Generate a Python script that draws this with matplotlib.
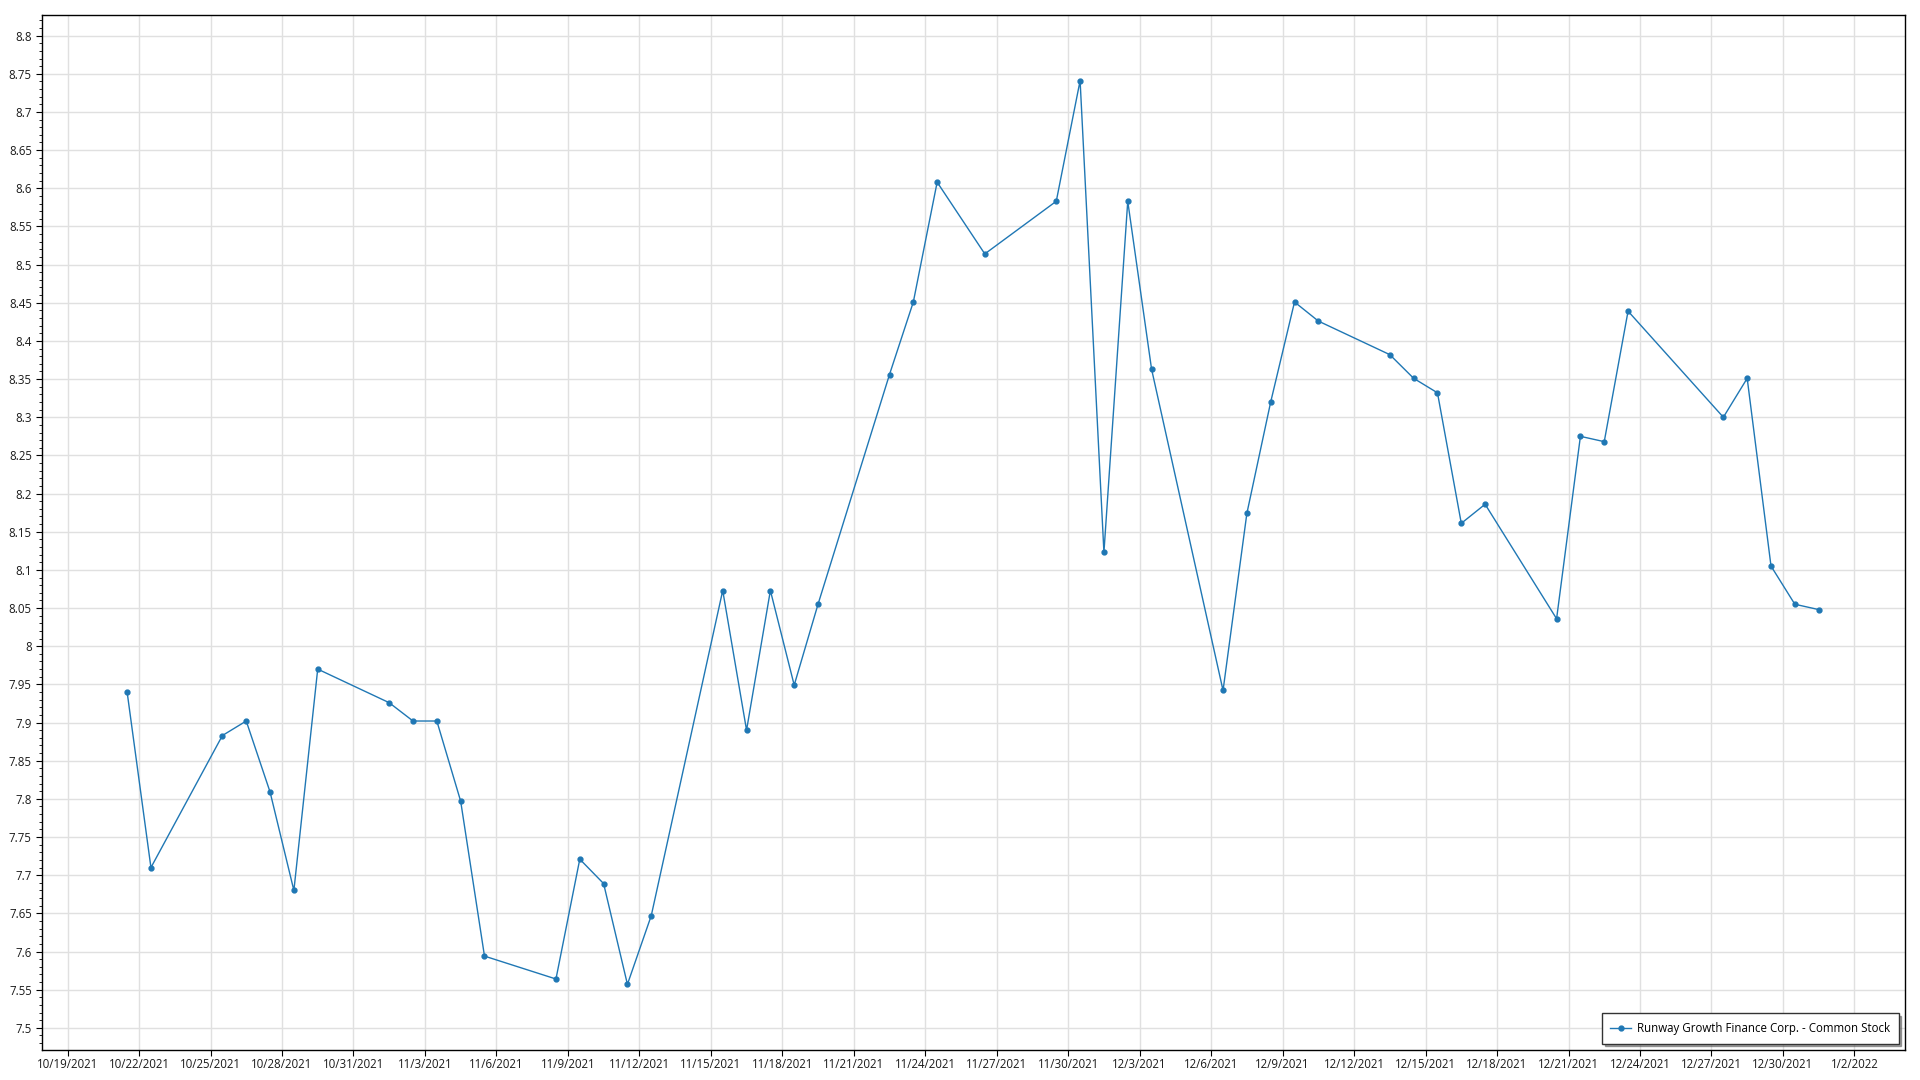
import numpy as np
import pandas as pd
import matplotlib
matplotlib.use("Agg")
import matplotlib.pyplot as plt
import matplotlib.dates as mdates
from matplotlib.ticker import MultipleLocator, FuncFormatter

plt.rcParams['font.family'] = ['Open Sans', 'DejaVu Sans']

# trading days (closing prices, plotted at midday)
dates = [
    '2021-10-21', '2021-10-22', '2021-10-25', '2021-10-26', '2021-10-27',
    '2021-10-28', '2021-10-29', '2021-11-01', '2021-11-02', '2021-11-03',
    '2021-11-04', '2021-11-05', '2021-11-08', '2021-11-09', '2021-11-10',
    '2021-11-11', '2021-11-12', '2021-11-15', '2021-11-16', '2021-11-17',
    '2021-11-18', '2021-11-19', '2021-11-22', '2021-11-23', '2021-11-24',
    '2021-11-26', '2021-11-29', '2021-11-30', '2021-12-01', '2021-12-02',
    '2021-12-03', '2021-12-06', '2021-12-07', '2021-12-08', '2021-12-09',
    '2021-12-10', '2021-12-13', '2021-12-14', '2021-12-15', '2021-12-16',
    '2021-12-17', '2021-12-20', '2021-12-21', '2021-12-22', '2021-12-23',
    '2021-12-27', '2021-12-28', '2021-12-29', '2021-12-30', '2021-12-31',
]
prices = [
    7.940, 7.710, 7.883, 7.902, 7.809, 7.680, 7.970, 7.926, 7.902, 7.902,
    7.797, 7.594, 7.564, 7.721, 7.689, 7.557, 7.647, 8.073, 7.890, 8.073,
    7.949, 8.055, 8.356, 8.451, 8.608, 8.514, 8.583, 8.741, 8.123, 8.583,
    8.363, 7.942, 8.174, 8.320, 8.451, 8.426, 8.382, 8.351, 8.332, 8.161,
    8.186, 8.036, 8.275, 8.268, 8.439, 8.300, 8.351, 8.105, 8.055, 8.048,
]
series_name = 'Runway Growth Finance Corp. - Common Stock'

x = pd.to_datetime(dates) + pd.Timedelta(hours=12)

fig = plt.figure(figsize=(19.2, 10.8), dpi=100)
ax = fig.add_axes([0.0220, 0.0278, 0.9702, 0.9583])

ax.plot(x, prices, color='#1f77b4', linewidth=1.0, marker='o', markersize=3.5,
        label=series_name, zorder=3)

ax.set_xlim(pd.Timestamp('2021-10-17 22:30'), pd.Timestamp('2022-01-04 03:00'))
ax.set_ylim(7.471, 8.827)

xticks = pd.date_range('2021-10-19', '2022-01-02', freq='3D')
ax.set_xticks(xticks)
ax.xaxis.set_major_formatter(FuncFormatter(
    lambda v, p: (lambda d: f"{d.month}/{d.day}/{d.year}")(mdates.num2date(v))))

ax.yaxis.set_major_locator(MultipleLocator(0.05))
ax.yaxis.set_minor_locator(MultipleLocator(0.01))
ax.yaxis.set_major_formatter(FuncFormatter(lambda v, p: f"{round(v, 2):g}"))

ax.grid(True, which='major', color='#e0e0e0', linewidth=1.0, zorder=0)
ax.tick_params(axis='both', which='major', labelsize=8.3, length=4, color='black',
               labelcolor='#1a1a1a')
ax.tick_params(axis='x', which='major', pad=2)
ax.tick_params(axis='y', which='minor', length=2, color='black')
for s in ax.spines.values():
    s.set_color('black')
    s.set_linewidth(1.0)

leg = ax.legend(loc='lower right', fontsize=8.3, fancybox=False, shadow=True,
                framealpha=1, edgecolor='#333333', borderpad=0.75,
                handlelength=1.8, handletextpad=0.5, borderaxespad=0.55)
leg.get_frame().set_linewidth(1.0)

fig.savefig('out.png', dpi=100)
